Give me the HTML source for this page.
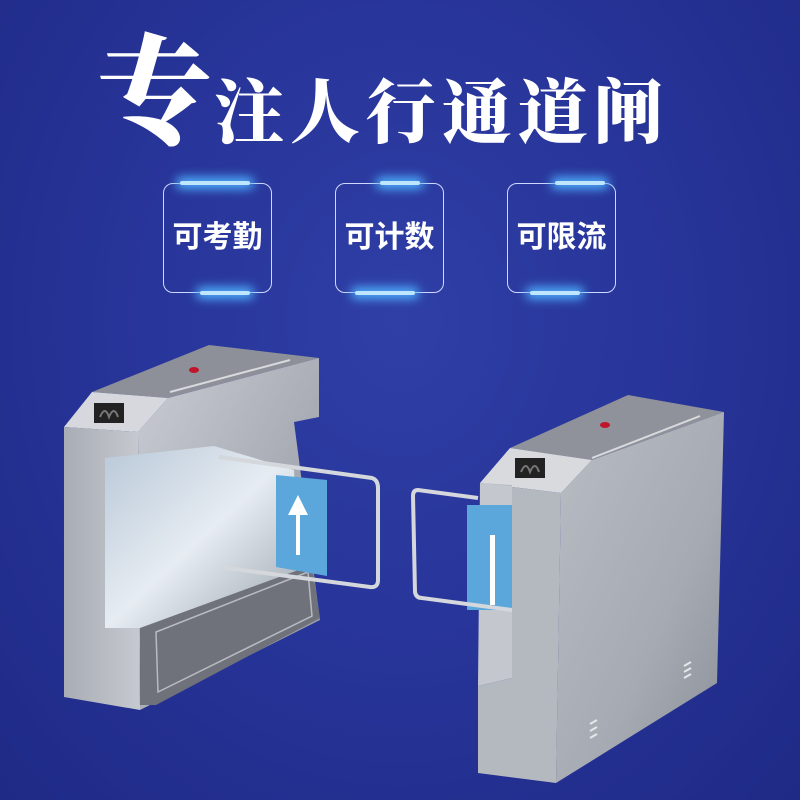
<!DOCTYPE html>
<html><head><meta charset="utf-8"><style>
html,body{margin:0;padding:0;width:800px;height:800px;overflow:hidden}
body{background:radial-gradient(ellipse at 50% 40%,#2f3fa6 0%,#28359a 45%,#1f2a86 100%);position:relative;font-family:"Liberation Sans","Noto Sans CJK SC",sans-serif}
.t{position:absolute;color:#fff;font-family:"Liberation Serif","Noto Serif CJK SC",serif;font-weight:900;line-height:1}
.box{position:absolute;top:183px;width:107px;height:108px;border:1.5px solid #cfd8ff;border-radius:10px;color:#fff;font-size:30px;font-weight:bold;line-height:108px;text-align:center;font-family:"Liberation Sans","Noto Sans CJK SC",sans-serif}
.gl{position:absolute;height:4px;width:70px;border-radius:3px;background:#bfe6ff;box-shadow:0 0 10px 4px #4fb0ff}
</style></head><body>
<div class="t" style="left:96px;top:36px;font-size:118px">专</div>
<div class="t" style="left:214px;top:80px;font-size:70px;letter-spacing:6px">注人行通道闸</div>

<div class="box" style="left:163px">可考勤</div>
<div class="box" style="left:335px">可计数</div>
<div class="box" style="left:507px">可限流</div>
<div class="gl" style="left:180px;top:181px"></div>
<div class="gl" style="left:200px;top:291px;width:50px"></div>
<div class="gl" style="left:380px;top:181px;width:40px"></div>
<div class="gl" style="left:355px;top:291px;width:60px"></div>
<div class="gl" style="left:555px;top:181px;width:50px"></div>
<div class="gl" style="left:530px;top:291px;width:50px"></div>

<svg width="800" height="800" style="position:absolute;left:0;top:0">
<defs>
<linearGradient id="side" x1="0" y1="0" x2="1" y2="1"><stop offset="0" stop-color="#c9ccd3"/><stop offset="1" stop-color="#8f939c"/></linearGradient>
<linearGradient id="front" x1="0" y1="0" x2="1" y2="0"><stop offset="0" stop-color="#a8acb4"/><stop offset="1" stop-color="#c6c9cf"/></linearGradient>
<linearGradient id="rec" x1="0" y1="0" x2="1" y2="1"><stop offset="0" stop-color="#b9c8d8"/><stop offset=".5" stop-color="#e6ecf2"/><stop offset="1" stop-color="#9aa3ad"/></linearGradient>
<linearGradient id="rside" x1="0" y1="0" x2="1" y2="1"><stop offset="0" stop-color="#b8bcc3"/><stop offset=".6" stop-color="#a6aab2"/><stop offset="1" stop-color="#8a8e97"/></linearGradient>
</defs>
<!-- LEFT UNIT -->
<polygon points="92,392 209,345 319,358 168,398" fill="#8d9099"/>
<polygon points="168,398 319,358 319,417 294,422 320,620 140,710 138,432" fill="url(#side)"/>
<polygon points="64,427 92,392 168,398 138,432" fill="#d6d8dd"/>
<rect x="94" y="403" width="30" height="20" fill="#222"/>
<path d="M100,417 q5,-12 9,0 q5,-12 9,0" stroke="#777" stroke-width="2" fill="none"/>
<polygon points="64,427 138,432 140,710 64,697" fill="url(#front)"/>
<polygon points="105,458 214,446 294,470 300,572 214,628 105,628" fill="url(#rec)"/>
<polygon points="140,628 312,565 320,618 156,705 140,705" fill="#6f727a"/>
<polygon points="156,632 308,572 312,616 158,692" fill="none" stroke="#b8bbc2" stroke-width="1.5"/>
<line x1="170" y1="392" x2="290" y2="360" stroke="#d8dade" stroke-width="2"/>
<ellipse cx="194" cy="370" rx="5" ry="3" fill="#c0142a"/>
<!-- left gate -->
<polygon points="276,475 327,480 327,576 276,567" fill="#5ba7db"/>
<polygon points="298,495 288,515 296,515 296,555 300,555 300,515 308,515" fill="#fff"/>
<path d="M219,457 L372,478 Q378,480 378,488 L378,580 Q378,588 370,587 L219,567" fill="none" stroke="#d4d7dc" stroke-width="4"/>
<!-- RIGHT UNIT -->
<polygon points="510,448 628,395 724,412 592,460" fill="#8f929a"/>
<polygon points="561,493 592,460 724,412 717,683 556,783" fill="url(#rside)"/>
<polygon points="480,483 510,448 592,460 561,493" fill="#d8dade"/>
<rect x="515" y="458" width="30" height="20" fill="#222"/>
<path d="M521,472 q5,-12 9,0 q5,-12 9,0" stroke="#777" stroke-width="2" fill="none"/>
<polygon points="480,483 561,493 556,783 478,773 478,686 512,678 512,485" fill="#b4b8bf"/>
<polygon points="480,483 512,486 512,678 478,686" fill="#c4c8ce"/>
<line x1="592" y1="458" x2="700" y2="416" stroke="#d8dade" stroke-width="2"/>
<ellipse cx="605" cy="425" rx="5" ry="3" fill="#c0142a"/>
<g stroke="#e5e7ea" stroke-width="2"><line x1="684" y1="666" x2="691" y2="662"/><line x1="684" y1="672" x2="691" y2="668"/><line x1="684" y1="678" x2="691" y2="674"/>
<line x1="590" y1="724" x2="597" y2="720"/><line x1="590" y1="731" x2="597" y2="727"/><line x1="590" y1="738" x2="597" y2="734"/></g>
<!-- right gate -->
<rect x="467" y="505" width="45" height="105" fill="#5ba7db"/>
<rect x="490" y="535" width="5" height="70" fill="#fff"/>
<path d="M478,498 L418,490 Q413,490 413,496 L415,592 Q416,598 422,598 L512,610" fill="none" stroke="#d4d7dc" stroke-width="4"/>
</svg>
</body></html>
